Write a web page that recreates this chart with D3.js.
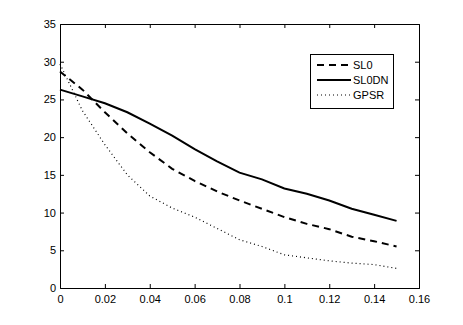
<!DOCTYPE html>
<html><head><meta charset="utf-8">
<script src="https://cdn.jsdelivr.net/npm/d3@7"></script>
<style>body{margin:0;background:#fff;} text{font-family:"Liberation Sans",Arial,sans-serif;}</style>
</head><body>
<svg id="c" width="463" height="325"></svg>
<script>
const xs = [0,0.01,0.02,0.03,0.04,0.05,0.06,0.07,0.08,0.09,0.10,0.11,0.12,0.13,0.14,0.15];
const sl0 = [28.7,26.3,23.3,20.5,18.0,15.8,14.2,12.8,11.6,10.5,9.4,8.5,7.8,6.8,6.2,5.5];
const sl0dn = [26.3,25.4,24.5,23.3,21.8,20.2,18.4,16.8,15.3,14.4,13.2,12.5,11.6,10.5,9.7,8.9];
const gpsr = [29.7,23.5,19.0,15.0,12.2,10.6,9.4,7.9,6.4,5.5,4.4,4.0,3.6,3.3,3.1,2.6];
const xTicks = [0,0.02,0.04,0.06,0.08,0.1,0.12,0.14,0.16];
const yTicks = [0,5,10,15,20,25,30,35];
const seriesNames = ["SL0","SL0DN","GPSR"];

const L=60, R=419, T=24, B=288;
const svg = d3.select("#c");
const x = d3.scaleLinear().domain([0,0.16]).range([L,R]);
const y = d3.scaleLinear().domain([0,35]).range([B,T]);

// axes
const xa = d3.axisBottom(x).tickValues(xTicks).tickSize(-4).tickPadding(7).tickFormat(d=>d===0?"0":d3.format("")(+d.toFixed(2)));
const ya = d3.axisLeft(y).tickValues(yTicks).tickSize(-4).tickPadding(4);
const gx = svg.append("g").attr("transform",`translate(0,${B})`).call(xa);
const gy = svg.append("g").attr("transform",`translate(${L},0)`).call(ya);
const gxt = svg.append("g").attr("transform",`translate(0,${T})`).call(d3.axisTop(x).tickValues(xTicks).tickSize(-4).tickFormat(""));
const gyr = svg.append("g").attr("transform",`translate(${R},0)`).call(d3.axisRight(y).tickValues(yTicks).tickSize(-4).tickFormat(""));
[gx,gy,gxt,gyr].forEach(g=>{
  g.selectAll("path.domain").attr("stroke","#000").attr("stroke-width",1);
  g.selectAll(".tick line").attr("stroke","#000");
  g.selectAll("text").attr("font-size",11).attr("fill","#000").attr("font-family","Liberation Sans, Arial, sans-serif");
});
[gx,gxt].forEach(g=>g.selectAll(".tick line").filter(d=>d===0||d===0.16).remove());
[gy,gyr].forEach(g=>g.selectAll(".tick line").filter(d=>d===0||d===35).remove());

const line = d3.line().x((d,i)=>x(xs[i])).y(d=>y(d));
const styles = {
  SL0:{w:2,dash:"7,5"},
  SL0DN:{w:2,dash:null},
  GPSR:{w:1.2,dash:"1,3"}
};
const data = {SL0:sl0, SL0DN:sl0dn, GPSR:gpsr};
seriesNames.forEach(n=>{
  svg.append("path").datum(data[n]).attr("d",line)
    .attr("fill","none").attr("stroke","#000")
    .attr("stroke-width",styles[n].w)
    .attr("stroke-dasharray",styles[n].dash);
});

// legend
const lg = svg.append("g");
lg.append("rect").attr("x",310.5).attr("y",54.5).attr("width",83).attr("height",54)
  .attr("fill","#fff").attr("stroke","#000").attr("stroke-width",1);
const ly = d3.scalePoint().domain(seriesNames).range([65,95]);
seriesNames.forEach(n=>{
  lg.append("line").attr("x1",317).attr("x2",351).attr("y1",ly(n)).attr("y2",ly(n))
    .attr("stroke","#000").attr("stroke-width",styles[n].w).attr("stroke-dasharray",styles[n].dash);
  lg.append("text").attr("x",353).attr("y",ly(n)).attr("dy","0.35em").attr("font-size",11).text(n);
});
</script>
</body></html>
